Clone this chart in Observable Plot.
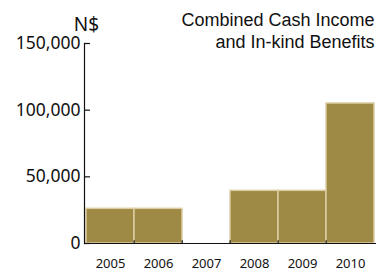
<!DOCTYPE html>
<html>
<head>
<meta charset="utf-8">
<script src="https://cdn.jsdelivr.net/npm/d3@7"></script>
<script src="https://cdn.jsdelivr.net/npm/@observablehq/plot@0.6"></script>
<style>
  html, body { margin: 0; padding: 0; background: #fff; }
</style>
</head>
<body>
<div id="chart"></div>
<script>
const years = ["2005", "2006", "2007", "2008", "2009", "2010"];
const values = [26000, 26000, 0, 39500, 39500, 105000];
const yTicks = [0, 50000, 100000, 150000];
const titleLines = ["Combined Cash Income", "and In-kind Benefits"];
const unitLabel = "N$";

const data = years.map((y, i) => ({year: y, value: values[i]}));

const W = 379, H = 273, ML = 84, MR = 3, MT = 43, MB = 30;
const bw = (W - ML - MR) / years.length;

const chart = Plot.plot({
  width: W,
  height: H,
  marginLeft: ML,
  marginRight: MR,
  marginTop: MT,
  marginBottom: MB,
  style: {fontFamily: "'Noto Sans', sans-serif", background: "#fff", color: "#111"},
  x: {domain: years, padding: 0, label: null},
  y: {domain: [0, 150000], label: null},
  marks: [
    Plot.barY(data, {x: "year", y: "value", fill: "#9e8a45", stroke: "#dccda2", strokeWidth: 1.5}),
    Plot.axisY(yTicks, {tickSize: 0, tickPadding: 4, tickFormat: d3.format(","), fontSize: 17.5, dy: 0, fill: "#111"}),
    Plot.ruleY(yTicks, {y: d => d, insetRight: W - ML - MR - 6, stroke: "#111", strokeWidth: 1.2}),
    Plot.frame({anchor: "left", stroke: "#111", strokeWidth: 1.2}),
    Plot.ruleY([0], {stroke: "#111", strokeWidth: 1.2}),
    Plot.ruleX(years.slice(1), {x: d => d, dx: -bw / 2, y1: 0, y2: 2000, stroke: "#111", strokeWidth: 1.2}),
    Plot.axisX({tickSize: 0, tickPadding: 15.5, fontSize: 13, fill: "#111"}),
    Plot.text([unitLabel], {text: d => d, frameAnchor: "top-left", dx: 2, dy: -26, fontSize: 19, fill: "#111", textAnchor: "middle"}),
    Plot.text([titleLines.join("\n")], {text: d => d, frameAnchor: "top-right", dx: -2, dy: -32, fontSize: 18, lineHeight: 1.17, fontFamily: "'Liberation Sans', Arial, sans-serif", fill: "#111", textAnchor: "end", lineAnchor: "top"})
  ]
});
document.getElementById("chart").appendChild(chart);
</script>
</body>
</html>
